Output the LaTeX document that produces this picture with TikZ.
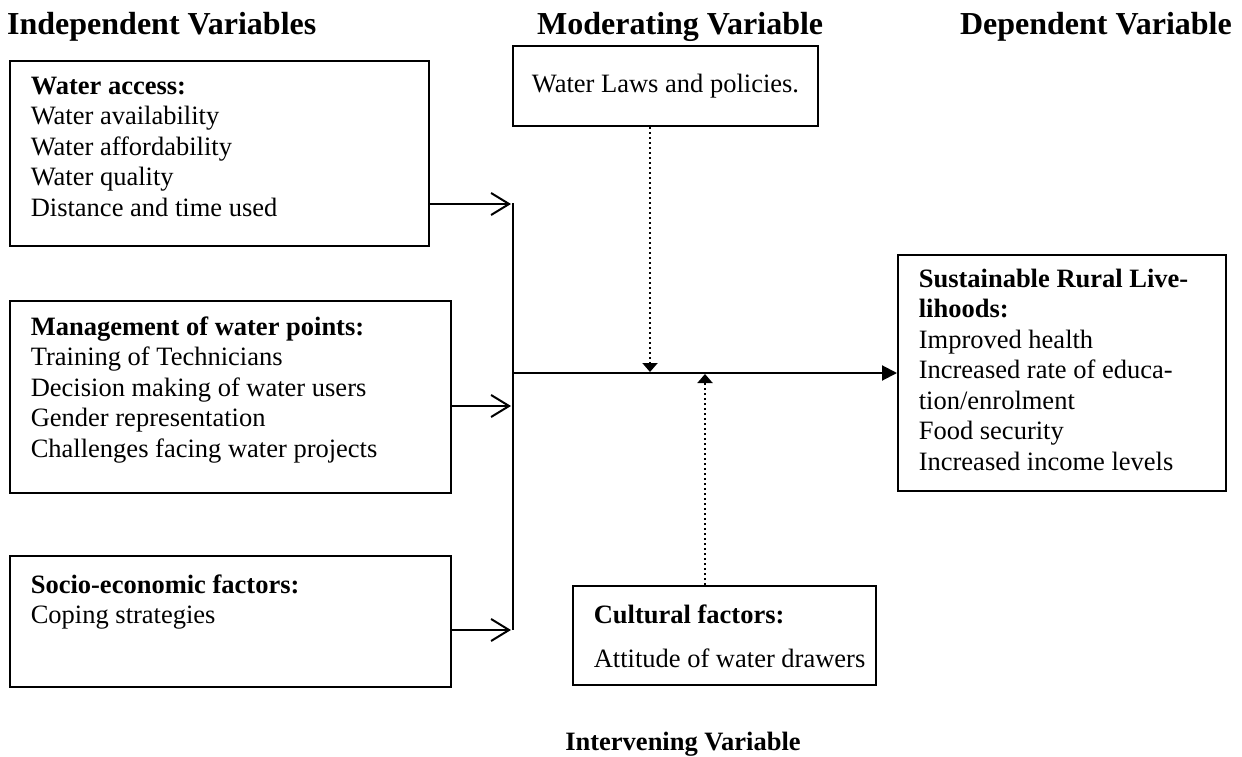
\documentclass[tikz,border=0pt]{standalone}
\usepackage{fontspec}
\setmainfont{Liberation Serif}
\usetikzlibrary{arrows.meta}
\tikzstyle{varbox} = [rectangle, draw=black, line width=1.6pt, anchor=north west, inner xsep=21pt, inner ysep=16pt]
\tikzstyle{lawbox} = [rectangle, draw=black, line width=1.6pt, minimum width=305pt, minimum height=80pt, text centered, inner sep=0pt]
\tikzstyle{heading} = [font=\fontsize{32}{38}\selectfont\bfseries, inner sep=0pt]
\tikzstyle{feed} = [line width=2pt, -{Straight Barb[length=18pt,width=22pt,line width=2pt]}]
\tikzstyle{effect} = [line width=2pt, -{Triangle[length=15pt,width=15pt]}]
\tikzstyle{moderate} = [line width=2pt, dash pattern=on 2pt off 3pt, -{Triangle[length=9pt,width=15pt]}]
\newcommand{\boxtext}[3]{\parbox[b][#2][t]{#1}{\raggedright #3}}

\begin{document}
\begin{tikzpicture}[x=1pt, y=-1pt, font=\fontsize{26.5}{30.5}\selectfont]
\useasboundingbox (0,0) rectangle (1242,757);

% headings
\node (hind) [heading, anchor=base west] at (7,35) {Independent Variables};
\node (hmod) [heading, anchor=base west] at (537,35) {Moderating Variable};
\node (hdep) [heading, anchor=base east] at (1232,35) {Dependent Variable};
\node (hint) [heading, font=\fontsize{26.5}{30.5}\selectfont\bfseries, anchor=base] at (683,750) {Intervening Variable};

% independent variables
\node (access) [varbox] at (9,60) {\boxtext{377pt}{153pt}{\textbf{Water access:}\\ Water availability\\ Water affordability\\ Water quality\\ Distance and time used}};
\node (manage) [varbox] at (9,300) {\boxtext{399pt}{160pt}{\textbf{Management of water points:}\\ Training of Technicians\\ Decision making of water users\\ Gender representation\\ Challenges facing water projects}};
\node (socio) [varbox, inner ysep=19pt] at (9,555) {\boxtext{399pt}{93pt}{\textbf{Socio-economic factors:}\\ Coping strategies}};

% moderating and intervening variables
\node (laws) [lawbox] at (665.5,86) {Water Laws and policies.};
\node (culture) [varbox, inner ysep=19pt] at (572,585) {\boxtext{261pt}{61pt}{\textbf{Cultural factors:}\\[14pt] \mbox{Attitude of water drawers}}};

% dependent variable
\node (sustain) [varbox, inner ysep=14pt] at (897,254) {\boxtext{286pt}{208pt}{\textbf{Sustainable Rural Live-\\lihoods:}\\ Improved health\\ Increased rate of educa-\\tion/enrolment\\ Food security\\ Increased income levels}};

% joining line
\coordinate (bustop) at (513,203);
\coordinate (busbot) at (513,630);
\coordinate (busmid) at (513,373);
\coordinate (bus1) at (511,204);
\coordinate (bus2) at (511,406);
\coordinate (bus3) at (511,630);
\coordinate (lawtip) at (650,372);
\coordinate (culttip) at (705,374);

\draw [line width=2pt] (bustop) -- (busbot);
\draw [feed] (access.east |- bus1) -- (bus1);
\draw [feed] (manage.east |- bus2) -- (bus2);
\draw [feed] (socio.east |- bus3) -- (bus3);
\draw [effect] (busmid) -- (busmid -| sustain.west);
\draw [moderate] (laws.south -| lawtip) -- (lawtip);
\draw [moderate] (culture.north -| culttip) -- (culttip);

\end{tikzpicture}
\end{document}
